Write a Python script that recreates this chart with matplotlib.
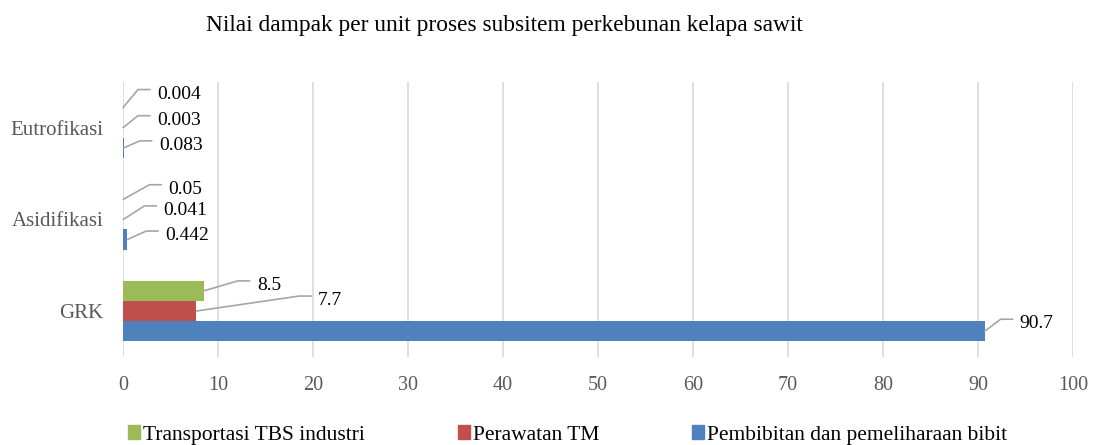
import numpy as np
import matplotlib
matplotlib.use("Agg")
import matplotlib.pyplot as plt
from matplotlib.patches import Patch

plt.rcParams['font.family'] = ['Liberation Serif', 'DejaVu Serif']

# --- data ---
categories = ['GRK', 'Asidifikasi', 'Eutrofikasi']
series_names = ['Pembibitan dan pemeliharaan bibit', 'Perawatan TM', 'Transportasi TBS industri']
pembibitan = [90.7, 0.442, 0.083]
perawatan = [7.7, 0.041, 0.003]
transportasi = [8.5, 0.05, 0.004]
value_labels = [
    ['90.7', '0.442', '0.083'],
    ['7.7', '0.041', '0.003'],
    ['8.5', '0.05', '0.004'],
]
colors = ['#4f81bd', '#c0504d', '#9bbb59']

# label offsets (pixels) from bar end to label left/center, image y-down
label_offsets = [
    [(35, -10), (38, -6.5), (35, -5)],
    [(122, -13), (40, -11.5), (34, -10)],
    [(53, -8), (45, -12.5), (34, -16)],
]

fig = plt.figure(figsize=(10.95, 4.45), dpi=100)
ax = fig.add_axes([123 / 1095, 0.198, 950 / 1095, 0.618])

y = np.arange(len(categories))
h = 0.22
all_series = [pembibitan, perawatan, transportasi]
for i, vals in enumerate(all_series):
    pos = y + (i - 1) * h
    ax.barh(pos, vals, height=h, color=colors[i], zorder=3)
    for j, v in enumerate(vals):
        dx, dy = label_offsets[i][j]
        ax.annotate(value_labels[i][j], xy=(v, pos[j]), xytext=(dx, -dy - 2.5),
                    textcoords='offset pixels', ha='left', va='center',
                    fontsize=14, color='black', zorder=5)
        lx, ly = dx - 7, -dy + 2
        angB = np.degrees(np.arctan2(ly, lx - 12))
        ax.annotate('', xy=(v, pos[j]), xytext=(lx, ly), textcoords='offset pixels',
                    arrowprops=dict(arrowstyle='-', color='#a6a6a6', lw=1.2,
                                    shrinkA=0, shrinkB=0,
                                    connectionstyle=f'angle,angleA=0,angleB={angB},rad=0'),
                    zorder=4)

ax.set_xlim(0, 100)
ax.set_ylim(-0.5, 2.5)
ax.set_xticks(np.arange(0, 101, 10))
ax.set_yticks(y)
ax.set_yticklabels(categories)
ax.grid(axis='x', color='#d9d9d9', lw=1.2, zorder=0)
for s in ax.spines.values():
    s.set_visible(False)
ax.tick_params(axis='both', length=0, colors='#595959', labelsize=14.5)
ax.tick_params(axis='x', pad=14)
ax.tick_params(axis='y', pad=14, labelsize=15)

fig.text(504 / 1095, 1 - 25 / 445, 'Nilai dampak per unit proses subsitem perkebunan kelapa sawit',
         ha='center', va='center', fontsize=16.8, color='black')

# legend, one entry per position like the original
legend_x = [128, 458, 692]
legend_order = [2, 1, 0]
for lx, idx in zip(legend_x, legend_order):
    leg = fig.legend(handles=[Patch(color=colors[idx], label=series_names[idx])],
                     loc='center left', bbox_to_anchor=(lx / 1095, 10 / 445),
                     frameon=False, fontsize=15.5, handlelength=0.56, handleheight=0.56,
                     handletextpad=0.15, borderpad=0, borderaxespad=0)

fig.savefig('out.png', dpi=100)
